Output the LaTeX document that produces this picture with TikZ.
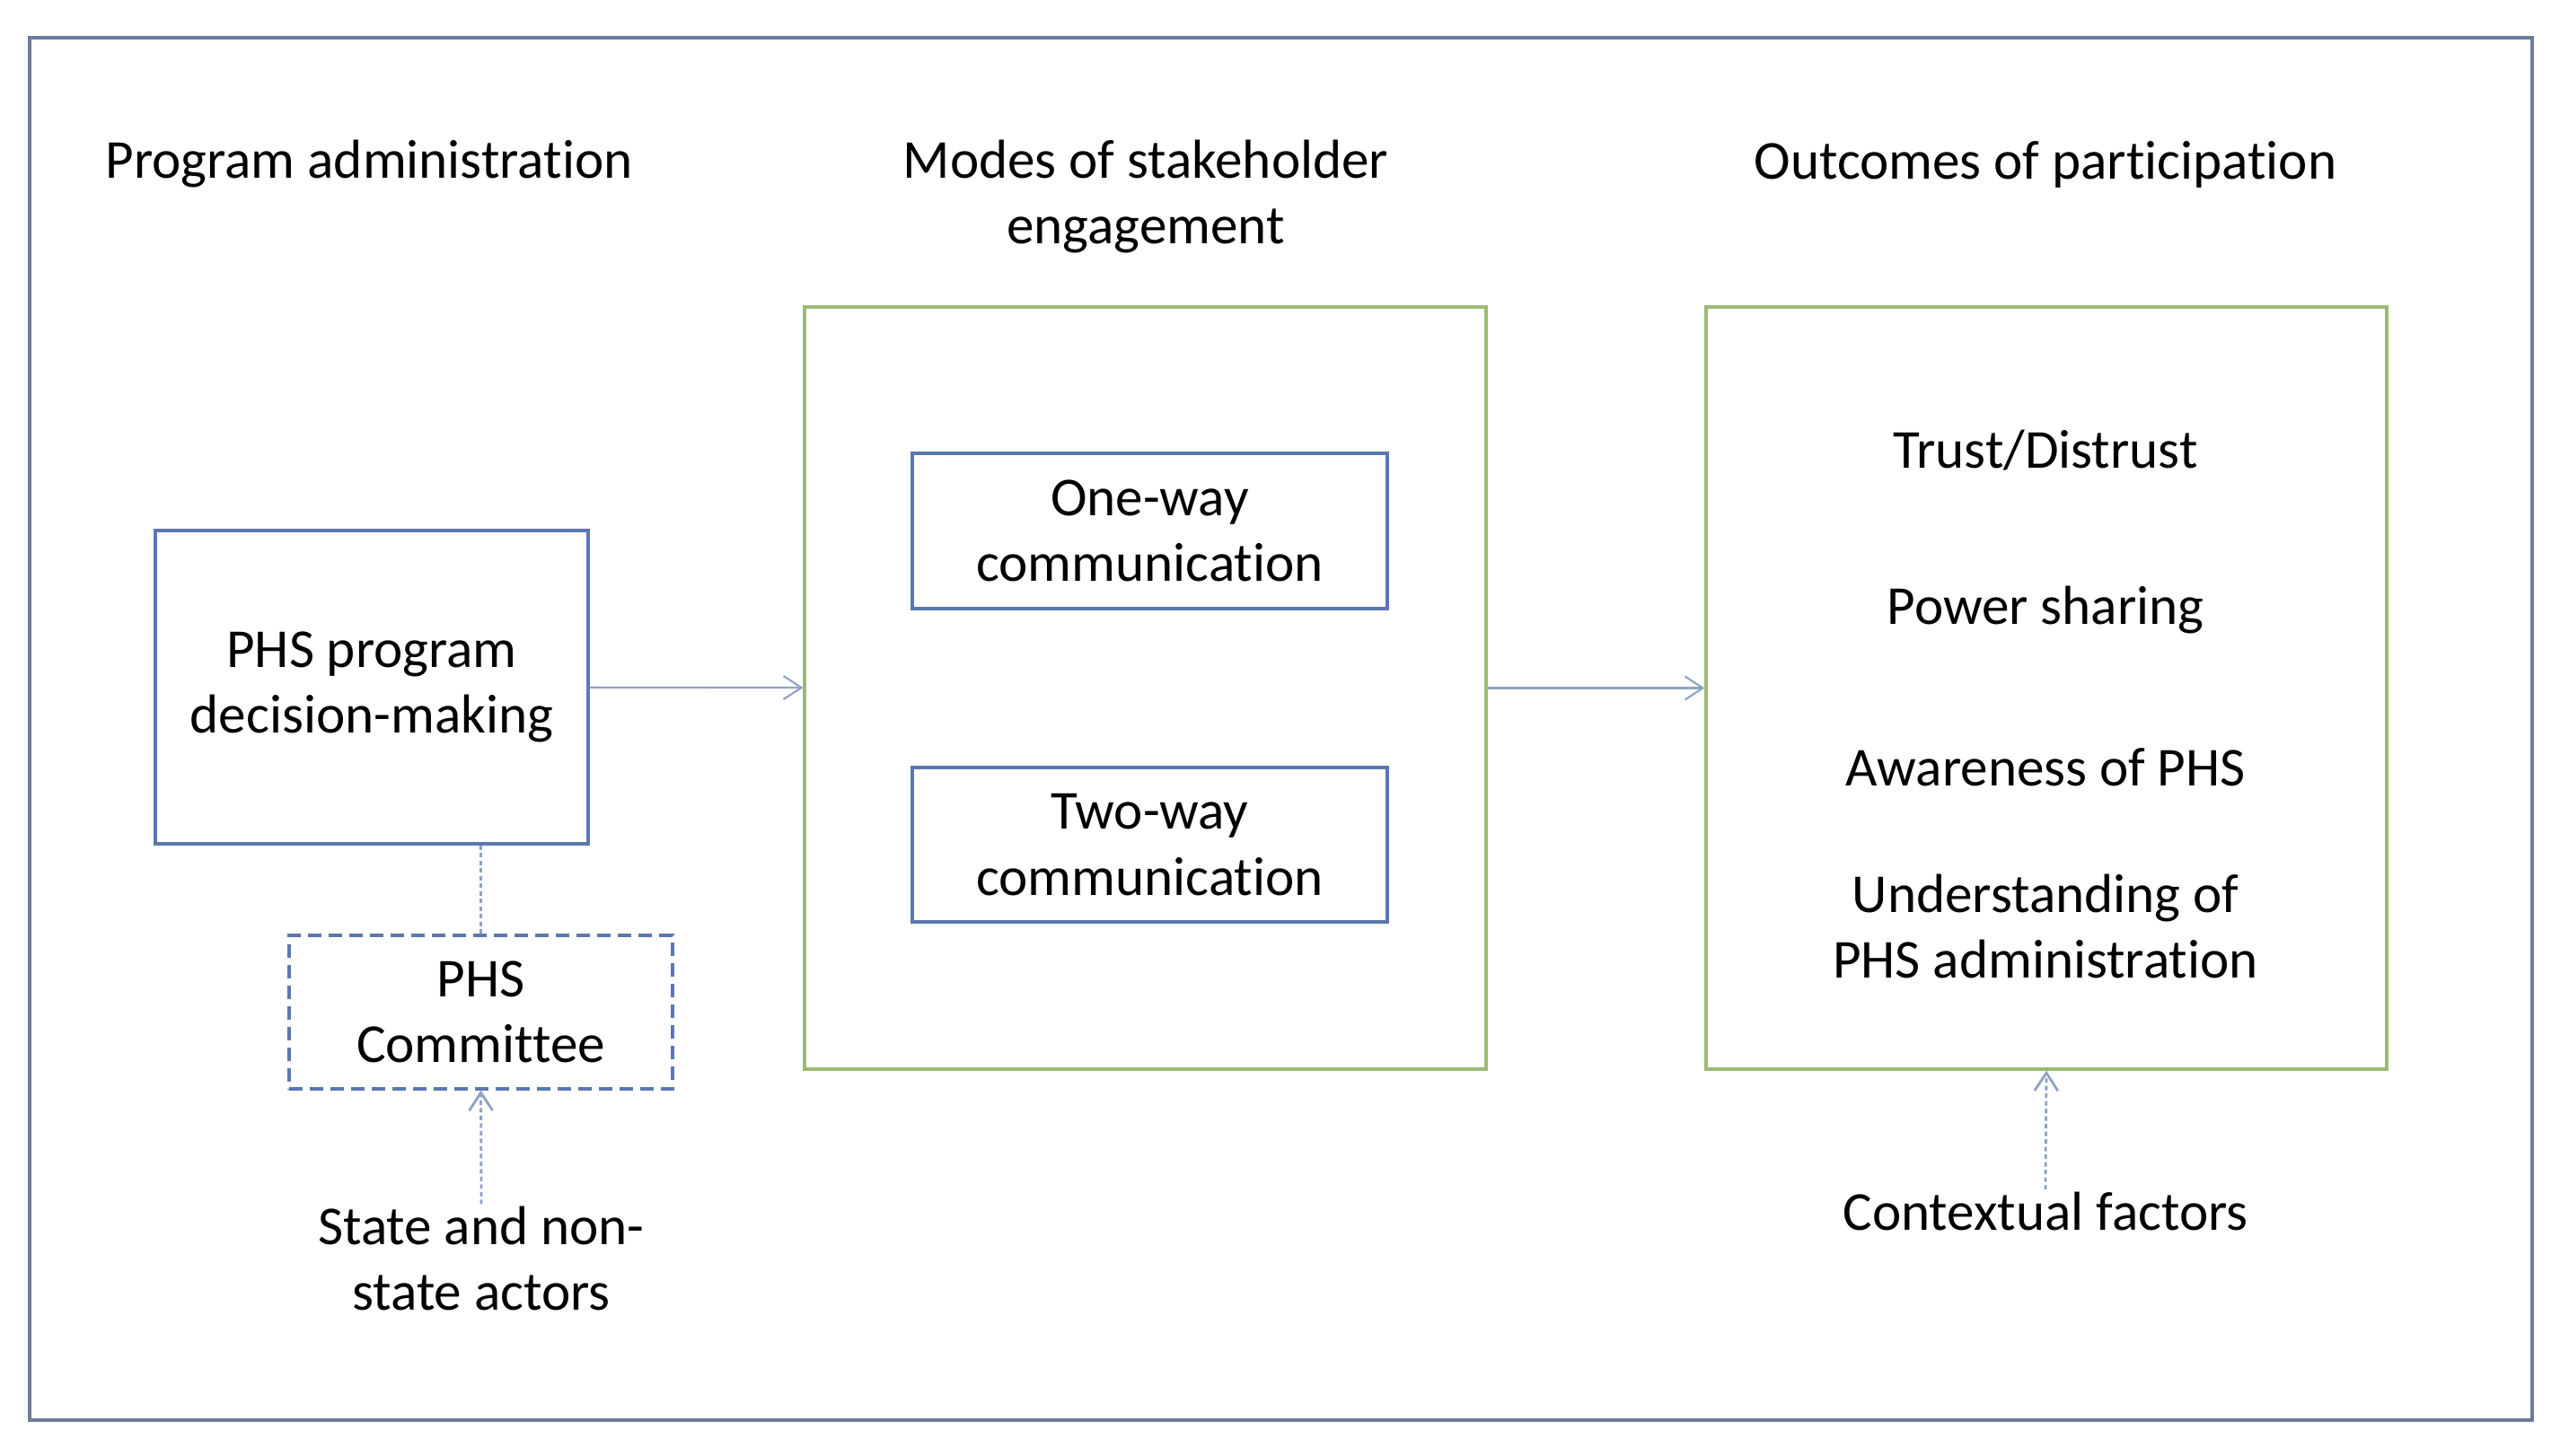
\documentclass[tikz,border=0pt]{standalone}
\usepackage{fontspec}
\setmainfont[Ligatures=NoCommon]{Carlito}
\usetikzlibrary{arrows.meta}

\definecolor{boxblue}{HTML}{5B78AE}
\definecolor{boxgreen}{HTML}{9BBB73}
\definecolor{framegray}{HTML}{6E7C98}
\definecolor{arrowgray}{HTML}{8FA2C2}

\begin{document}
\begin{tikzpicture}[>={Straight Barb[length=2mm,width=2.6mm]},
  every node/.style={font=\fontsize{17.4}{20.9}\selectfont,align=center},
  blue box/.style={rectangle,draw=boxblue,line width=0.9pt,inner sep=0pt},
  green box/.style={rectangle,draw=boxgreen,line width=0.9pt,inner sep=0pt},
  dash box/.style={blue box,dash pattern=on 0.15cm off 0.08cm},
  thin arrow/.style={->,draw=arrowgray,line width=0.6pt},
  dot line/.style={draw=arrowgray,line width=0.8pt,dash pattern=on 0.05cm off 0.035cm}]

  \useasboundingbox (0,0) rectangle (28.51,-16.22);
  \draw[framegray,line width=0.9pt] (0.33,-0.42) rectangle (28.20,-15.82);

  % column titles
  \node (T1) at (4.11,-1.83) {Program administration};
  \node (T2) at (12.76,-2.19) {Modes of stakeholder\\engagement};
  \node (T3) at (22.78,-1.83) {Outcomes of participation};

  % left column
  \node[blue box, minimum width=4.82cm, minimum height=3.49cm] (A) at (4.14,-7.655) {PHS program\\decision-making};
  \node[dash box, minimum width=4.27cm, minimum height=1.71cm] (C) at (5.355,-11.275) {PHS\\Committee};
  \node (S) at (5.36,-14.02) {State and non-\\state actors};

  % middle column
  \node[green box, minimum width=7.59cm, minimum height=8.49cm] (M) at (12.755,-7.665) {};
  \node[blue box, minimum width=5.29cm, minimum height=1.73cm] (M1) at (12.805,-5.915) {One-way\\communication};
  \node[blue box, minimum width=5.29cm, minimum height=1.72cm] (M2) at (12.805,-9.41) {Two-way\\communication};

  % right column
  \node[green box, minimum width=7.58cm, minimum height=8.49cm] (O) at (22.79,-7.665) {};
  \node (O1) at (22.78,-5.02) {Trust/Distrust};
  \node (O2) at (22.78,-6.8) {Power sharing};
  \node (O3) at (22.78,-8.55) {Awareness of PHS};
  \node (O4) at (22.78,-10.32) {Understanding of\\PHS administration};
  \node (X) at (22.78,-13.49) {Contextual factors};

  \path[thin arrow]
    (A) edge (M)
    (M) edge (O);
  \path[dot line]
    (C.north) edge (C.north |- A.south)
    (S.north) edge[->,shorten <=-0.1cm] (C.south)
    (X.north) edge[->,shorten <=-0.1cm] (O.south);
\end{tikzpicture}
\end{document}
